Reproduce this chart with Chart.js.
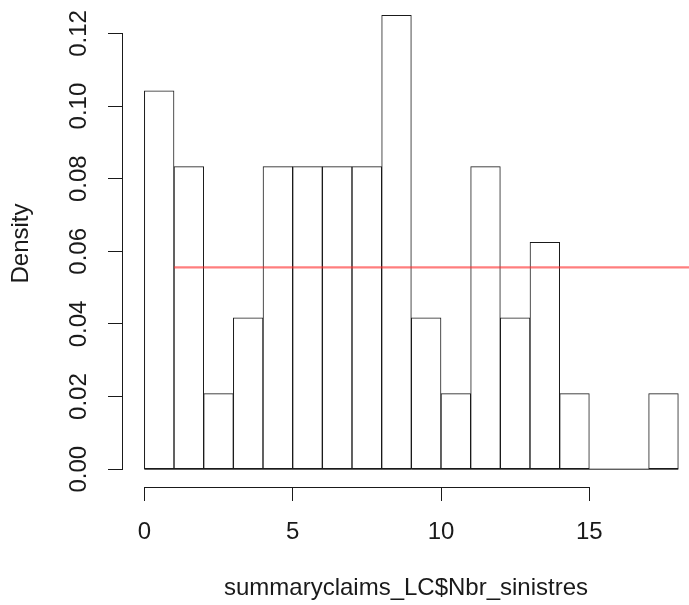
<!DOCTYPE html>
<html>
<head>
<meta charset="utf-8">
<title>Histogram</title>
<script src="https://cdn.jsdelivr.net/npm/chart.js@4/dist/chart.umd.min.js"></script>
<style>
  html, body { margin: 0; padding: 0; background: #ffffff; }
  #wrap { width: 689px; height: 605px; }
</style>
</head>
<body>
<div id="wrap"><canvas id="c" width="689" height="605"></canvas></div>
<script>
// ---- data ----
const binEdges = [0, 1, 2, 3, 4, 5, 6, 7, 8, 9, 10, 11, 12, 13, 14, 15, 16, 17, 18];
const densities = [0.1042, 0.0833, 0.0208, 0.0417, 0.0833, 0.0833, 0.0833, 0.0833, 0.125,
                   0.0417, 0.0208, 0.0833, 0.0417, 0.0625, 0.0208, 0, 0, 0.0208];
const uniformDensity = 0.0556;
const uniformSpan = [1, 19];
const xTickValues = [0, 5, 10, 15];
const yTickValues = [0, 0.02, 0.04, 0.06, 0.08, 0.10, 0.12];
const xAxisTitle = 'summaryclaims_LC$Nbr_sinistres';
const yAxisTitle = 'Density';

// ---- build datasets from the arrays ----
const barPoints = densities.map((d, i) => ({ x: (binEdges[i] + binEdges[i + 1]) / 2, y: d }));
const baselinePoints = [{ x: binEdges[0], y: 0 }, { x: binEdges[binEdges.length - 1], y: 0 }];
const uniformPoints = uniformSpan.map(v => ({ x: v, y: uniformDensity }));

const FONT = { family: '"Liberation Sans", Arial, Helvetica, sans-serif', size: 24 };
const INK = '#1a1a1a';

// R-style axis lines: only between first and last tick
const rAxisLines = {
  id: 'rAxisLines',
  afterDraw(chart) {
    const { ctx, scales: { x, y } } = chart;
    ctx.save();
    ctx.strokeStyle = INK;
    ctx.lineWidth = 1;
    ctx.beginPath();
    const xy = Math.round(x.top) + 0.5;
    ctx.moveTo(x.getPixelForValue(xTickValues[0]), xy);
    ctx.lineTo(x.getPixelForValue(xTickValues[xTickValues.length - 1]), xy);
    const yx = Math.round(y.right) - 0.5;
    ctx.moveTo(yx, y.getPixelForValue(yTickValues[0]));
    ctx.lineTo(yx, y.getPixelForValue(yTickValues[yTickValues.length - 1]));
    ctx.stroke();
    ctx.restore();
  }
};

new Chart(document.getElementById('c'), {
  type: 'bar',
  data: {
    datasets: [
      {
        type: 'line',
        data: uniformPoints,
        borderColor: 'rgba(255, 40, 40, 0.6)',
        borderWidth: 2.2,
        pointRadius: 0,
        order: 0
      },
      {
        type: 'line',
        data: baselinePoints,
        borderColor: INK,
        borderWidth: 1,
        pointRadius: 0,
        order: 1
      },
      {
        type: 'bar',
        data: barPoints,
        backgroundColor: '#ffffff',
        borderColor: INK,
        borderWidth: 1,
        borderSkipped: false,
        barPercentage: 1,
        categoryPercentage: 1,
        order: 2
      }
    ]
  },
  options: {
    responsive: false,
    animation: false,
    devicePixelRatio: 1,
    layout: { padding: 0 },
    plugins: { legend: { display: false }, tooltip: { enabled: false }, title: { display: false } },
    scales: {
      x: {
        type: 'linear',
        min: -0.72,
        max: 18.36,
        offset: false,
        border: { display: false },
        grid: { offset: false, drawOnChartArea: false, drawTicks: true, tickLength: 14, color: INK, lineWidth: 1 },
        ticks: {
          autoSkip: false,
          maxRotation: 0,
          minRotation: 0,
          padding: 17,
          color: INK,
          font: FONT,
          callback: v => String(v)
        },
        title: { display: true, text: xAxisTitle, color: INK, font: FONT, padding: { top: 0, bottom: 2 } },
        afterBuildTicks: s => { s.ticks = xTickValues.map(v => ({ value: v })); },
        afterFit: s => { s.height = 118; s.paddingLeft = 0; s.paddingRight = 0; s.paddingTop = 0; s.paddingBottom = 0; }
      },
      y: {
        type: 'linear',
        min: -0.0049,
        max: 0.1292,
        border: { display: false },
        grid: { offset: false, drawOnChartArea: false, drawTicks: true, tickLength: 15, color: INK, lineWidth: 1 },
        ticks: {
          autoSkip: false,
          minRotation: 90,
          maxRotation: 90,
          crossAlign: 'center',
          padding: 5,
          color: INK,
          font: FONT,
          callback: v => Number(v).toFixed(2)
        },
        title: { display: true, text: yAxisTitle, color: INK, font: FONT, padding: { top: 7, bottom: 0 } },
        afterBuildTicks: s => { s.ticks = yTickValues.map(v => ({ value: v })); },
        afterFit: s => { s.width = 123; s.paddingLeft = 0; s.paddingRight = 0; s.paddingTop = 0; s.paddingBottom = 0; }
      }
    }
  },
  plugins: [rAxisLines]
});
</script>
</body>
</html>
